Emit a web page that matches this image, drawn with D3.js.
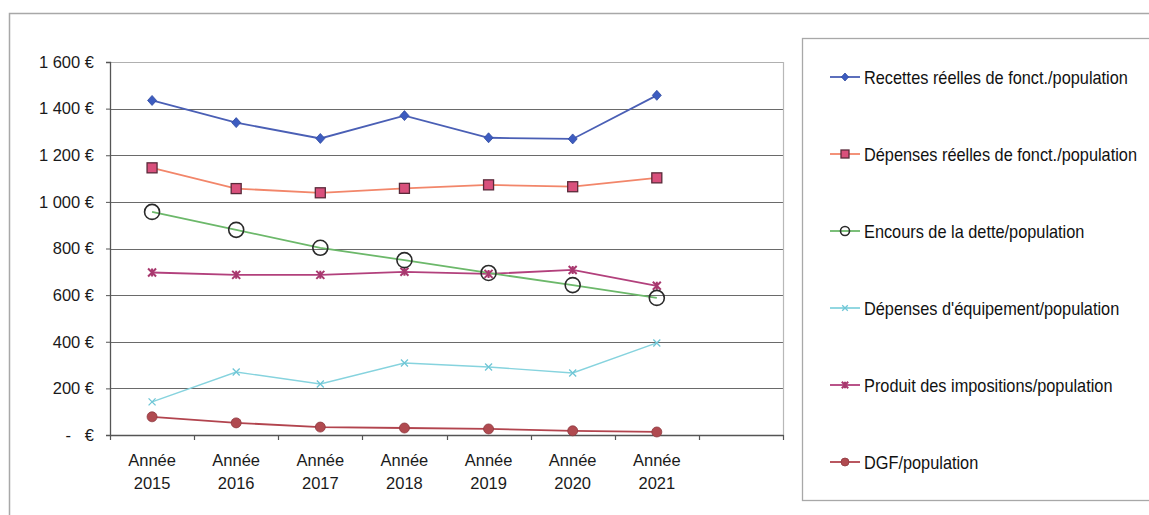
<!DOCTYPE html>
<html><head><meta charset="utf-8">
<script src="https://cdn.jsdelivr.net/npm/d3@7"></script>
<style>
html,body{margin:0;padding:0;background:#fff;}
svg{display:block;}
</style>
</head><body>
<svg id="chart" width="1149" height="515"></svg>
<script>
const categories = ["Année 2015","Année 2016","Année 2017","Année 2018","Année 2019","Année 2020","Année 2021",""];
const yTicks = [0,200,400,600,800,1000,1200,1400,1600];
const recettes   = [1435,1340,1272,1370,1275,1270,1457];
const depenses   = [1146,1057,1039,1058,1073,1065,1103];
const encours    = [957,880,803,750,695,643,588];
const equipement = [142,270,219,309,292,266,395];
const impositions= [697,687,687,700,691,708,640];
const dgf        = [78,52,34,30,26,18,13];
const seriesNames = ["Recettes réelles de fonct./population","Dépenses réelles de fonct./population","Encours de la dette/population","Dépenses d'équipement/population","Produit des impositions/population","DGF/population"];

const series = [
  {name:seriesNames[0], values:recettes,   line:"#4a5fb5", marker:"diamond"},
  {name:seriesNames[1], values:depenses,   line:"#f2866a", marker:"square"},
  {name:seriesNames[2], values:encours,    line:"#6cb86a", marker:"ocircle"},
  {name:seriesNames[3], values:equipement, line:"#86d3de", marker:"x"},
  {name:seriesNames[4], values:impositions,line:"#b2407c", marker:"star"},
  {name:seriesNames[5], values:dgf,        line:"#b2444e", marker:"dot"}
];

const svg = d3.select("#chart");
const font = "'Liberation Sans', Arial, sans-serif";

// outer frame
svg.append("rect").attr("x",9.5).attr("y",13.5).attr("width",1160).attr("height",520)
  .attr("fill","none").attr("stroke","#a8a8a8").attr("stroke-width",1.5);

const L=110, R=783, T=62, B=435;
const x = d3.scaleBand().domain(categories.map((c,i)=>i)).range([L,R]).paddingInner(0).paddingOuter(0);
const y = d3.scaleLinear().domain([0,1600]).range([B,T]);

// gridlines
svg.append("g").selectAll("line").data(yTicks.filter(v=>v>0)).join("line")
  .attr("x1",L).attr("x2",R).attr("y1",d=>Math.round(y(d))+0.5).attr("y2",d=>Math.round(y(d))+0.5)
  .attr("stroke",d=>d===1600?"#b0b0b0":"#6a6a6a").attr("stroke-width",1.2);
// right border of plot area
svg.append("line").attr("x1",R+0.5).attr("x2",R+0.5).attr("y1",T).attr("y2",B)
  .attr("stroke","#b8b8b8").attr("stroke-width",1.2);

// y axis
const fmt = v => v===0 ? "-   €" : d3.format(",")(v).replace(/,/g," ")+" €";
const yAxis = svg.append("g").attr("transform",`translate(${L},0)`)
  .call(d3.axisLeft(y).tickValues(yTicks).tickSize(4).tickPadding(12).tickFormat(fmt));
yAxis.select(".domain").attr("stroke","#555").attr("stroke-width",1.3);
yAxis.selectAll(".tick line").attr("stroke","#555");
yAxis.selectAll("text").attr("font-family",font).attr("font-size",16.5).attr("fill","#1a1a1a").attr("xml:space","preserve");

// x axis
const xAxis = svg.append("g").attr("transform",`translate(0,${B})`)
  .call(d3.axisBottom(x).tickSize(0).tickFormat(""));
xAxis.select(".domain").attr("stroke","#555").attr("stroke-width",1.3);
// ticks at band boundaries
svg.append("g").selectAll("line").data(categories.map((c,i)=>i).concat([categories.length])).join("line")
  .attr("x1",i=>Math.round(i<categories.length? x(i): R)+0.5).attr("x2",i=>Math.round(i<categories.length? x(i): R)+0.5)
  .attr("y1",B).attr("y2",B+5).attr("stroke","#555").attr("stroke-width",1.2);
// category labels (two lines)
const lab = svg.append("g").selectAll("text").data(categories.map((c,i)=>({c,i})).filter(d=>d.c)).join("text")
  .attr("x",d=>x(d.i)+x.bandwidth()/2).attr("y",B+31)
  .attr("text-anchor","middle").attr("font-family",font).attr("font-size",16.5).attr("fill","#1a1a1a");
lab.each(function(d){
  const parts=d.c.split(" ");
  d3.select(this).selectAll("tspan").data(parts).join("tspan")
    .attr("x",x(d.i)+x.bandwidth()/2).attr("dy",(p,k)=>k===0?0:23).text(p=>p);
});

const cx = i => x(i)+x.bandwidth()/2;
const lineGen = d3.line().x((d,i)=>cx(i)).y(d=>y(d));

function drawMarker(g, type, px, py, s){
  s = s||1;
  if(type==="diamond"){
    g.append("path").attr("d",`M${px},${py-5*s}L${px+4.5*s},${py}L${px},${py+5*s}L${px-4.5*s},${py}Z`)
      .attr("fill","#3d5cc0").attr("stroke","#2e4aa0").attr("stroke-width",0.8);
  } else if(type==="square"){
    g.append("rect").attr("x",px-5*s).attr("y",py-5*s).attr("width",10*s).attr("height",10*s)
      .attr("fill","#d9507c").attr("stroke","#5a2a3a").attr("stroke-width",1.3);
  } else if(type==="ocircle"){
    g.append("circle").attr("cx",px).attr("cy",py).attr("r",7.5*s)
      .attr("fill","none").attr("stroke","#2a2a2a").attr("stroke-width",1.6);
  } else if(type==="x"){
    const r=3.5*s;
    g.append("path").attr("d",`M${px-r},${py-r}L${px+r},${py+r}M${px-r},${py+r}L${px+r},${py-r}`)
      .attr("stroke","#6fc6d6").attr("stroke-width",1.3);
  } else if(type==="star"){
    const r=4*s;
    g.append("path").attr("d",`M${px-r},${py-r}L${px+r},${py+r}M${px-r},${py+r}L${px+r},${py-r}M${px},${py-r}L${px},${py+r}`)
      .attr("stroke","#a8386e").attr("stroke-width",2);
  } else if(type==="dot"){
    g.append("circle").attr("cx",px).attr("cy",py).attr("r",5*s)
      .attr("fill","#b04a50").attr("stroke","#8e3a40").attr("stroke-width",0.8);
  }
}

// draw lines in reverse order so first series is on top
const plot = svg.append("g");
series.slice().reverse().forEach(s=>{
  plot.append("path").datum(s.values).attr("d",lineGen)
    .attr("fill","none").attr("stroke",s.line).attr("stroke-width",s.marker==="x"?1.4:1.8);
});
series.slice().reverse().forEach(s=>{
  const g = plot.append("g");
  s.values.forEach((v,i)=>drawMarker(g,s.marker,cx(i),y(v)));
});

// legend
svg.append("rect").attr("x",802.5).attr("y",38.5).attr("width",400).attr("height",462)
  .attr("fill","#fff").attr("stroke","#a8a8a8").attr("stroke-width",1.3);
const legY = d3.scalePoint().domain(seriesNames).range([77,462]);
const legTexts = [];
series.forEach(s=>{
  const ly = legY(s.name);
  const g = svg.append("g");
  g.append("line").attr("x1",830).attr("x2",860).attr("y1",ly).attr("y2",ly)
    .attr("stroke",s.line).attr("stroke-width",1.8);
  drawMarker(g,s.marker,845,ly, s.marker==="ocircle"?0.6:0.8);
  const t = g.append("text").attr("x",0).attr("y",0).text(s.name)
    .attr("font-family",font).attr("font-size",19).attr("fill","#111");
  legTexts.push({t, ly});
});
// condense the legend font horizontally to match the narrow typeface
const w0 = legTexts[0].t.node().getComputedTextLength();
const k = 264 / w0;
legTexts.forEach(({t,ly})=>{
  t.attr("transform",`translate(864,${ly+6.5}) scale(${k},1)`);
});
</script>
</body></html>
